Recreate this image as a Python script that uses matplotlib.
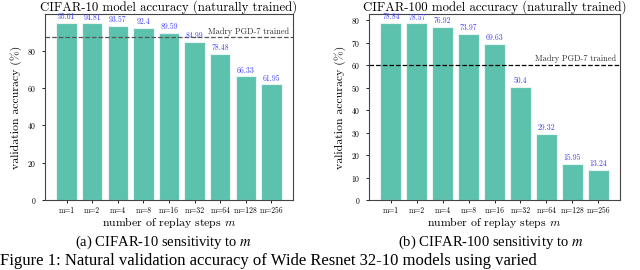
import matplotlib
matplotlib.use("Agg")
import matplotlib.pyplot as plt
import numpy as np

plt.rcParams["font.family"] = ["cmr10", "DejaVu Serif"]
plt.rcParams["mathtext.fontset"] = "cm"
plt.rcParams["axes.formatter.use_mathtext"] = True
plt.rcParams["axes.unicode_minus"] = False

# ─── Dados ────────────────────────────────────────────────────────────────────
steps = ["m=1", "m=2", "m=4", "m=8", "m=16", "m=32", "m=64", "m=128", "m=256"]
acc_c10 = [95.01, 94.81, 93.57, 92.4, 89.59, 84.99, 78.48, 66.33, 61.95]
acc_c100 = [78.84, 78.57, 76.92, 73.97, 69.63, 50.4, 29.32, 15.95, 13.24]
madry_c10 = 87.3
madry_c100 = 60.0

titles = ["CIFAR-10 model accuracy (naturally trained)",
          "CIFAR-100 model accuracy (naturally trained)"]
captions = ["(a) CIFAR-10 sensitivity to $m$",
            "(b) CIFAR-100 sensitivity to $m$"]
fig_caption = ("Figure 1: Natural validation accuracy of Wide Resnet 32-10 "
               "models using varied")

BAR_COLOR = "#5cc2ad"
LABEL_COLOR = "#3a3aff"

fig = plt.figure(figsize=(6.4, 2.7), dpi=100)
ax_l = fig.add_axes([45 / 640, 1 - 200 / 270, 248 / 640, 186 / 270])
ax_r = fig.add_axes([369 / 640, 1 - 200 / 270, 251 / 640, 186 / 270])

panels = [
    (ax_l, acc_c10, madry_c10, [0, 20, 40, 60, 80], "#555555", titles[0]),
    (ax_r, acc_c100, madry_c100, [0, 10, 20, 30, 40, 50, 60, 70, 80], "black", titles[1]),
]

for ax, vals, madry, yt, lcol, title in panels:
    x = np.arange(len(steps))
    bars = ax.bar(x, vals, 0.8, color=BAR_COLOR, edgecolor="#e8f6f2", linewidth=0.8)
    for b, v in zip(bars, vals):
        ax.text(b.get_x() + b.get_width() / 2, v + 0.8, f"{v:g}",
                ha="center", va="bottom", fontsize=5.5, color=LABEL_COLOR)
    ax.axhline(madry, color=lcol, linestyle="--", linewidth=0.9)
    ax.text(0.985, madry + 0.8, "Madry PGD-7 trained", ha="right", va="bottom",
            fontsize=6, color="#333333", transform=ax.get_yaxis_transform())
    ax.set_xticks(x)
    ax.set_xticklabels(steps, fontsize=5.5)
    ax.set_yticks(yt)
    ax.tick_params(axis="y", labelsize=5.5, length=2.5, width=0.6)
    ax.tick_params(axis="x", length=2.5, width=0.6, pad=2)
    ax.set_ylabel("validation accuracy (%)", fontsize=8.5, labelpad=4)
    ax.set_xlabel("number of replay steps $m$", fontsize=8.5, labelpad=0)
    ax.set_title(title, fontsize=9.2, pad=2)
    for s in ax.spines.values():
        s.set_color("#444444")
        s.set_linewidth(0.8)

fig.text(164 / 640, 1 - 242 / 270, captions[0], ha="center", va="center",
         fontsize=10.5, family="Liberation Serif", math_fontfamily="stix")
fig.text(491 / 640, 1 - 242 / 270, captions[1], ha="center", va="center",
         fontsize=10.5, family="Liberation Serif", math_fontfamily="stix")
fig.text(0.0, 1 - 269 / 270, fig_caption, ha="left", va="bottom",
         fontsize=12, family="Liberation Serif")

plt.savefig("out.png", dpi=100)
plt.close()
